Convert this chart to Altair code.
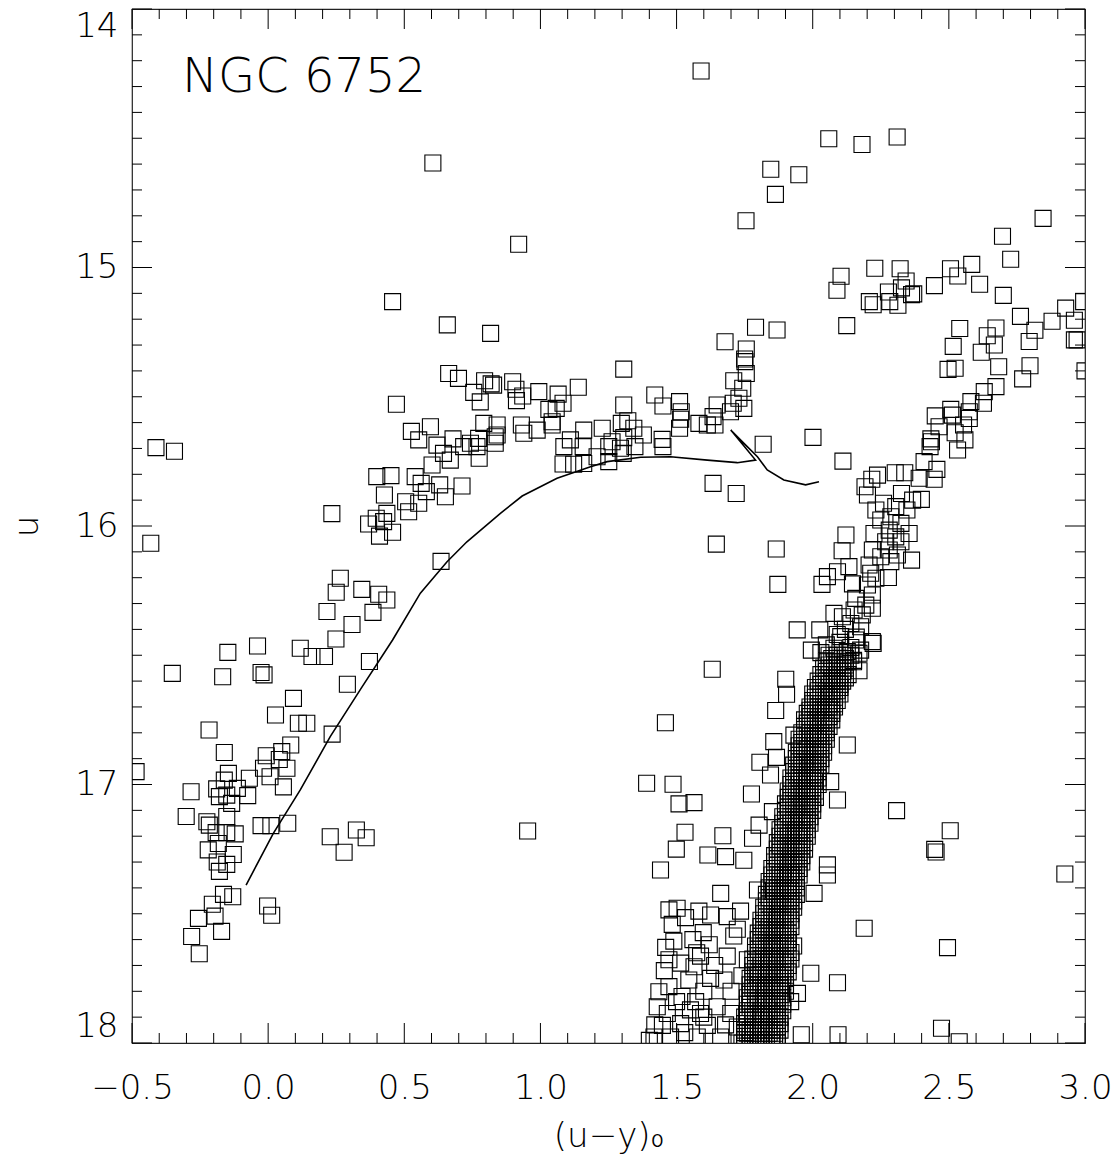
import altair as alt
import pandas as pd

# ---------------- data ----------------
field_upper = [
    (1.59, 14.24), (0.605, 14.596), (1.755, 14.819), (0.92, 14.91), (2.059, 14.502),
    (2.181, 14.524), (2.31, 14.495), (1.846, 14.62), (1.949, 14.641), (1.863, 14.717),
    (2.846, 14.81), (2.697, 14.879), (2.727, 14.968), (0.457, 15.132), (0.658, 15.222),
    (0.817, 15.255), (1.306, 15.393), (1.869, 15.242), (1.79, 15.231), (2.125, 15.225),
    (1.678, 15.287),
]

agb_points = [
    (2.506, 15.005), (2.584, 14.988), (2.533, 15.033), (2.613, 15.065), (2.700, 15.108),
    (2.447, 15.070), (2.228, 15.003), (2.321, 15.005), (2.104, 15.034), (2.089, 15.088),
    (2.208, 15.132), (2.222, 15.144), (2.278, 15.095), (2.283, 15.132), (2.313, 15.146),
    (2.343, 15.052), (2.326, 15.079), (2.363, 15.105), (2.371, 15.102), (2.763, 15.189),
    (2.929, 15.157), (2.879, 15.208), (2.961, 15.204), (2.816, 15.243), (2.795, 15.286),
    (2.961, 15.28), (2.971, 15.28), (2.995, 15.132), (2.540, 15.236), (2.673, 15.234),
    (2.641, 15.264), (2.667, 15.30), (2.516, 15.305), (2.619, 15.328), (2.683, 15.384),
    (2.798, 15.38), (2.497, 15.394), (2.523, 15.39), (3.0, 15.4),
]

rgb_upper = [
    (2.771, 15.431), (2.673, 15.461), (2.630, 15.480), (2.627, 15.525), (2.581, 15.519),
    (2.575, 15.558), (2.575, 15.584), (2.507, 15.549), (2.513, 15.571), (2.450, 15.574),
    (2.464, 15.616), (2.523, 15.639), (2.554, 15.609), (2.559, 15.667), (2.532, 15.706),
    (2.434, 15.663), (2.431, 15.693), (2.436, 15.674), (2.409, 15.751), (2.456, 15.781),
    (2.446, 15.819), (2.391, 15.815), (2.338, 15.794), (2.303, 15.794), (2.238, 15.803),
    (2.217, 15.819), (2.192, 15.848), (2.201, 15.880), (2.326, 15.874), (2.367, 15.9),
    (2.399, 15.897), (2.260, 15.912), (2.232, 15.938), (2.305, 15.925), (2.346, 15.938),
    (2.287, 15.964), (2.250, 15.977), (2.225, 16.029), (2.324, 15.990), (2.354, 16.029),
    (2.281, 16.016), (2.305, 16.042), (2.324, 16.061), (2.268, 16.061), (2.281, 16.093),
    (2.219, 16.093), (2.250, 16.119), (2.311, 16.112), (2.363, 16.132), (2.287, 16.138),
    (2.122, 16.035), (2.108, 16.096), (2.133, 16.157), (2.091, 16.177), (2.054, 16.196),
    (2.034, 16.226), (2.207, 16.151), (2.213, 16.183), (2.232, 16.202), (2.278, 16.199),
    (2.146, 16.224), (2.201, 16.228), (2.219, 16.267), (2.158, 16.28), (2.195, 16.306),
    (2.219, 16.318), (2.152, 16.325), (2.182, 16.344), (2.078, 16.338), (2.109, 16.351),
    (2.140, 16.377), (2.176, 16.39), (2.026, 16.402), (1.943, 16.402), (2.103, 16.428),
    (2.158, 16.441), (2.219, 16.447), (1.995, 16.48), (2.078, 16.473), (2.127, 16.486),
    (2.17, 16.492), (2.222, 16.454), (2.176, 16.48), (2.111, 15.749),
    (2.05, 16.46), (2.10, 16.45), (2.14, 16.47), (2.09, 16.42), (2.12, 16.40),
    (2.16, 16.43), (2.15, 16.52), (2.17, 16.56), (2.03, 16.49),
]

hb_points = [
    (0.471, 15.529), (0.663, 15.41), (0.699, 15.429), (0.755, 15.483), (0.795, 15.438),
    (0.819, 15.45), (0.779, 15.52), (0.526, 15.634), (0.596, 15.616), (0.553, 15.667),
    (0.620, 15.687), (0.679, 15.663), (0.644, 15.719), (0.669, 15.745), (0.718, 15.693),
    (0.743, 15.68), (0.773, 15.661), (0.792, 15.603), (0.767, 15.693), (0.775, 15.738),
    (0.841, 15.609), (0.841, 15.648), (0.602, 15.764), (0.399, 15.809), (0.451, 15.805),
    (0.427, 15.88), (0.540, 15.809), (0.562, 15.835), (0.581, 15.867), (0.630, 15.841),
    (0.651, 15.887), (0.712, 15.845), (0.505, 15.906), (0.516, 15.945), (0.553, 15.912),
    (0.436, 15.951), (0.234, 15.952), (0.397, 15.970), (0.369, 15.992), (0.424, 15.983),
    (0.409, 16.039), (0.457, 16.024), (0.635, 16.137),
    (0.898, 15.442), (0.91, 15.471), (0.935, 15.497), (0.912, 15.515), (0.994, 15.48),
    (1.065, 15.49), (1.083, 15.525), (1.139, 15.463), (1.031, 15.549), (1.058, 15.545),
    (0.828, 15.455), (0.834, 15.655), (0.834, 15.68), (0.930, 15.609), (0.939, 15.641),
    (0.988, 15.629), (1.043, 15.597), (1.043, 15.609), (1.110, 15.667), (1.086, 15.693),
    (1.159, 15.629), (1.157, 15.693), (1.083, 15.760), (1.122, 15.761), (1.159, 15.758),
    (1.227, 15.622), (1.208, 15.732), (1.251, 15.751), (1.251, 15.693), (1.263, 15.674),
    (1.297, 15.603), (1.321, 15.593), (1.343, 15.622), (1.306, 15.658), (1.294, 15.699),
    (1.304, 15.719), (1.347, 15.693), (1.378, 15.648), (1.306, 15.532), (1.420, 15.493),
    (1.45, 15.536), (1.511, 15.519), (1.517, 15.558), (1.447, 15.665), (1.45, 15.693),
    (1.511, 15.622), (1.515, 15.587), (1.582, 15.603), (1.613, 15.609), (1.641, 15.609),
    (1.634, 15.577), (1.649, 15.532), (1.698, 15.558), (1.708, 15.525), (1.747, 15.545),
    (1.729, 15.506), (1.743, 15.467), (1.710, 15.438), (1.756, 15.41), (1.751, 15.364),
    (1.756, 15.315), (1.75, 15.354), (1.818, 15.684), (2.001, 15.657), (1.634, 15.835),
    (1.719, 15.874), (1.646, 16.07), (1.866, 16.089), (1.872, 16.226),
]

bhb_points = [
    (-0.412, 15.697), (-0.344, 15.711), (-0.431, 16.067),
    (0.265, 16.202), (0.250, 16.256), (0.344, 16.245), (0.406, 16.264), (0.436, 16.286),
    (0.216, 16.331), (0.385, 16.334), (0.308, 16.381), (0.249, 16.437), (-0.148, 16.489),
    (-0.039, 16.464), (0.118, 16.473), (0.161, 16.505), (0.207, 16.505), (0.372, 16.524),
    (-0.352, 16.57), (-0.167, 16.583), (-0.026, 16.567), (-0.015, 16.576), (0.291, 16.612),
    (0.093, 16.667), (0.027, 16.731), (0.111, 16.763), (0.142, 16.763), (0.235, 16.805),
    (-0.217, 16.789), (-0.161, 16.876), (0.083, 16.847), (0.05, 16.873), (-0.007, 16.889),
    (0.041, 16.903), (0.069, 16.937), (-0.017, 16.937), (0.007, 16.97), (0.056, 17.009),
    (-0.485, 16.95), (-0.146, 16.957), (-0.161, 16.983), (-0.069, 16.976), (-0.283, 17.028),
    (-0.113, 17.015), (-0.075, 17.043), (-0.189, 17.017), (-0.179, 17.047), (-0.152, 17.041),
    (-0.134, 17.073), (-0.301, 17.124), (-0.152, 17.124), (-0.225, 17.144), (-0.216, 17.157),
    (-0.191, 17.186), (-0.152, 17.186), (-0.121, 17.191), (-0.183, 17.228), (-0.220, 17.253),
    (-0.128, 17.271), (-0.187, 17.3), (-0.152, 17.309), (-0.179, 17.336), (-0.026, 17.159),
    (0.010, 17.159), (0.072, 17.15), (0.228, 17.202), (0.324, 17.176), (0.360, 17.206),
    (0.279, 17.262), (-0.164, 17.425), (-0.130, 17.434), (-0.205, 17.463), (-0.256, 17.518),
    (-0.195, 17.509), (-0.002, 17.47), (0.013, 17.506), (-0.171, 17.568), (-0.281, 17.588),
    (-0.253, 17.655),
]

field_lower = [
    (1.631, 16.554), (1.459, 16.761), (1.390, 16.995), (1.487, 16.999), (1.509, 17.075),
    (1.564, 17.07), (1.531, 17.185), (1.499, 17.25), (1.670, 17.198), (1.615, 17.273),
    (1.68, 17.279), (1.775, 17.037), (1.864, 16.714), (1.901, 16.593), (1.904, 16.651),
    (1.931, 16.809), (1.857, 16.834), (1.867, 16.895), (1.806, 16.914), (1.845, 16.963),
    (2.127, 16.847), (2.091, 17.06), (2.066, 16.989), (1.852, 17.105), (1.803, 17.157),
    (1.779, 17.208), (0.953, 17.18), (2.308, 17.101), (2.505, 17.179), (2.448, 17.251),
    (2.453, 17.261), (2.926, 17.346), (2.189, 17.556), (2.495, 17.631), (2.473, 17.943),
    (2.538, 17.995),
]

sgb_points = [
    (1.441, 17.331), (1.747, 17.293), (2.054, 17.311), (2.054, 17.35), (1.662, 17.421),
    (1.797, 17.408), (2.005, 17.421), (1.472, 17.485), (1.502, 17.479), (1.582, 17.49),
    (1.625, 17.505), (1.686, 17.511), (1.735, 17.49), (1.484, 17.541), (1.533, 17.515),
    (1.598, 17.573), (1.723, 17.560), (1.710, 17.586), (1.49, 17.606), (1.574, 17.651),
    (1.588, 17.664), (1.686, 17.664), (1.472, 17.678), (1.515, 17.691), (1.564, 17.705),
    (1.760, 17.678), (1.993, 17.73), (2.091, 17.767), (1.435, 17.802), (1.472, 17.782),
    (1.545, 17.756), (1.674, 17.756), (1.625, 17.75), (1.944, 17.808), (1.919, 17.84),
    (1.429, 17.86), (1.466, 17.886), (1.551, 17.872), (1.588, 17.886), (1.649, 17.86),
    (1.699, 17.886), (1.448, 17.932), (1.515, 17.925), (1.613, 17.932), (1.723, 17.938),
    (1.417, 17.977), (1.478, 17.977), (1.576, 17.977), (1.662, 17.977), (1.958, 17.968),
    (2.093, 17.968), (1.455, 17.72), (1.52, 17.82), (1.60, 17.80), (1.70, 17.80),
    (1.64, 17.70), (1.56, 17.60), (1.62, 17.62), (1.74, 17.74), (1.77, 17.85),
    (1.42, 17.93), (1.53, 17.96), (1.60, 17.90), (1.68, 17.93), (1.75, 17.96),
    (1.46, 17.63), (1.40, 17.99), (1.50, 17.84), (1.57, 17.84),
]

# dense lower red-giant branch: rows of (u, [u-y values])
rgb_rows = [
    (16.500, [2.06, 2.09, 2.11, 2.14]),
    (16.525, [2.05, 2.08, 2.10, 2.13, 2.15]),
    (16.550, [2.04, 2.07, 2.09, 2.12]),
    (16.575, [2.03, 2.06, 2.08, 2.10, 2.13]),
    (16.600, [2.02, 2.05, 2.07, 2.09, 2.11]),
    (16.625, [2.01, 2.04, 2.06, 2.08, 2.10]),
    (16.650, [2.00, 2.03, 2.05, 2.07, 2.10]),
    (16.675, [2.00, 2.02, 2.05, 2.07, 2.09]),
    (16.700, [1.99, 2.02, 2.04, 2.06, 2.08]),
    (16.725, [1.98, 2.01, 2.03, 2.05, 2.07]),
    (16.750, [1.97, 2.00, 2.02, 2.04, 2.07]),
    (16.775, [1.97, 1.99, 2.01, 2.04, 2.06]),
    (16.800, [1.96, 1.99, 2.01, 2.03, 2.05]),
    (16.825, [1.95, 1.98, 2.00, 2.02, 2.05]),
    (16.850, [1.95, 1.97, 2.00, 2.02, 2.04]),
    (16.875, [1.94, 1.97, 1.99, 2.01, 2.04]),
    (16.900, [1.94, 1.96, 1.99, 2.01, 2.03]),
    (16.925, [1.93, 1.96, 1.98, 2.00, 2.03]),
    (16.950, [1.93, 1.95, 1.98, 2.00, 2.02]),
    (16.975, [1.92, 1.95, 1.97, 2.00, 2.02]),
    (17.000, [1.92, 1.95, 1.97, 1.99, 2.02]),
    (17.025, [1.91, 1.94, 1.97, 1.99, 2.01]),
    (17.050, [1.91, 1.94, 1.96, 1.98, 2.01]),
    (17.075, [1.90, 1.93, 1.96, 1.98, 2.00]),
    (17.100, [1.90, 1.93, 1.95, 1.97, 2.00]),
    (17.125, [1.89, 1.92, 1.95, 1.97, 1.99]),
    (17.150, [1.89, 1.92, 1.94, 1.96, 1.99]),
    (17.175, [1.88, 1.91, 1.94, 1.96, 1.98]),
    (17.200, [1.88, 1.91, 1.93, 1.95, 1.98]),
    (17.225, [1.87, 1.90, 1.93, 1.95, 1.97]),
    (17.250, [1.87, 1.90, 1.92, 1.94, 1.97]),
    (17.275, [1.86, 1.89, 1.92, 1.94, 1.96]),
    (17.300, [1.86, 1.89, 1.91, 1.93, 1.96]),
    (17.325, [1.85, 1.88, 1.91, 1.93, 1.95]),
    (17.350, [1.85, 1.88, 1.90, 1.92, 1.95]),
    (17.375, [1.84, 1.87, 1.90, 1.92, 1.94]),
    (17.400, [1.84, 1.87, 1.89, 1.91, 1.94]),
    (17.425, [1.83, 1.86, 1.89, 1.91, 1.94]),
    (17.450, [1.83, 1.86, 1.88, 1.91, 1.93]),
    (17.475, [1.82, 1.85, 1.88, 1.90, 1.93]),
    (17.500, [1.82, 1.85, 1.87, 1.90, 1.92]),
    (17.525, [1.81, 1.84, 1.87, 1.89, 1.92]),
    (17.550, [1.81, 1.84, 1.86, 1.89, 1.92]),
    (17.575, [1.80, 1.83, 1.86, 1.88, 1.91]),
    (17.600, [1.80, 1.83, 1.85, 1.88, 1.91]),
    (17.625, [1.79, 1.82, 1.85, 1.87, 1.90, 1.93]),
    (17.650, [1.79, 1.82, 1.84, 1.87, 1.90, 1.92]),
    (17.675, [1.78, 1.81, 1.84, 1.86, 1.89, 1.92]),
    (17.700, [1.78, 1.81, 1.83, 1.86, 1.89, 1.91]),
    (17.725, [1.78, 1.80, 1.83, 1.86, 1.88, 1.91]),
    (17.750, [1.77, 1.80, 1.83, 1.85, 1.88, 1.90]),
    (17.775, [1.77, 1.80, 1.82, 1.85, 1.88, 1.90]),
    (17.800, [1.77, 1.79, 1.82, 1.85, 1.87, 1.90]),
    (17.825, [1.76, 1.79, 1.82, 1.84, 1.87, 1.89]),
    (17.850, [1.76, 1.79, 1.81, 1.84, 1.87, 1.89]),
    (17.875, [1.76, 1.78, 1.81, 1.84, 1.86, 1.89]),
    (17.900, [1.75, 1.78, 1.81, 1.83, 1.86, 1.88]),
    (17.925, [1.75, 1.78, 1.80, 1.83, 1.86, 1.88]),
    (17.950, [1.75, 1.77, 1.80, 1.83, 1.85, 1.88]),
    (17.975, [1.75, 1.77, 1.80, 1.82, 1.85, 1.87]),
    (18.000, [1.74, 1.77, 1.79, 1.82, 1.85, 1.87]),
]

# second, interleaved set of stars in the same dense branch
rgb_rows_b = [
    (16.5125, [2.07, 2.10, 2.12]),
    (16.5375, [2.06, 2.09, 2.12]),
    (16.5625, [2.05, 2.08, 2.11]),
    (16.5875, [2.04, 2.07, 2.09, 2.12]),
    (16.6125, [2.03, 2.06, 2.08, 2.10]),
    (16.6375, [2.02, 2.05, 2.07, 2.09]),
    (16.6625, [2.01, 2.04, 2.06, 2.08]),
    (16.6875, [2.00, 2.03, 2.06, 2.08]),
    (16.7125, [1.99, 2.03, 2.05, 2.07]),
    (16.7375, [1.99, 2.02, 2.04, 2.06]),
    (16.7625, [1.98, 2.01, 2.03, 2.05]),
    (16.7875, [1.97, 2.00, 2.02, 2.05]),
    (16.8125, [1.97, 2.00, 2.02, 2.04]),
    (16.8375, [1.96, 1.99, 2.01, 2.03]),
    (16.8625, [1.96, 1.98, 2.01, 2.03]),
    (16.8875, [1.95, 1.98, 2.00, 2.02]),
    (16.9125, [1.95, 1.97, 2.00, 2.02]),
    (16.9375, [1.94, 1.97, 1.99, 2.01]),
    (16.9625, [1.94, 1.96, 1.99, 2.01]),
    (16.9875, [1.93, 1.96, 1.98, 2.01]),
    (17.0125, [1.93, 1.96, 1.98, 2.00]),
    (17.0375, [1.92, 1.95, 1.98, 2.00]),
    (17.0625, [1.92, 1.95, 1.97, 1.99]),
    (17.0875, [1.91, 1.94, 1.97, 1.99]),
    (17.1125, [1.91, 1.94, 1.96, 1.98]),
    (17.1375, [1.90, 1.93, 1.96, 1.98]),
    (17.1625, [1.90, 1.93, 1.95, 1.97]),
    (17.1875, [1.89, 1.92, 1.95, 1.97]),
    (17.2125, [1.89, 1.92, 1.94, 1.96]),
    (17.2375, [1.88, 1.91, 1.94, 1.96]),
    (17.2625, [1.88, 1.91, 1.93, 1.95]),
    (17.2875, [1.87, 1.90, 1.93, 1.95]),
    (17.3125, [1.87, 1.90, 1.92, 1.94]),
    (17.3375, [1.86, 1.89, 1.92, 1.94]),
    (17.3625, [1.86, 1.89, 1.91, 1.93]),
    (17.3875, [1.85, 1.88, 1.91, 1.93]),
    (17.4125, [1.85, 1.88, 1.90, 1.92]),
    (17.4375, [1.84, 1.87, 1.90, 1.92]),
    (17.4625, [1.84, 1.87, 1.89, 1.92]),
    (17.4875, [1.83, 1.86, 1.89, 1.91]),
    (17.5125, [1.83, 1.86, 1.88, 1.91]),
    (17.5375, [1.82, 1.85, 1.88, 1.90]),
    (17.5625, [1.82, 1.85, 1.87, 1.90]),
    (17.5875, [1.81, 1.84, 1.87, 1.89]),
    (17.6125, [1.81, 1.84, 1.86, 1.89, 1.91]),
    (17.6375, [1.80, 1.83, 1.86, 1.88, 1.91]),
    (17.6625, [1.80, 1.83, 1.85, 1.88, 1.90]),
    (17.6875, [1.79, 1.82, 1.85, 1.87, 1.90]),
    (17.7125, [1.79, 1.82, 1.84, 1.87, 1.90]),
    (17.7375, [1.79, 1.81, 1.84, 1.87, 1.89]),
    (17.7625, [1.78, 1.81, 1.84, 1.86, 1.89]),
    (17.7875, [1.78, 1.81, 1.83, 1.86, 1.88]),
    (17.8125, [1.77, 1.80, 1.83, 1.86, 1.88]),
    (17.8375, [1.77, 1.80, 1.83, 1.85, 1.88]),
    (17.8625, [1.77, 1.80, 1.82, 1.85, 1.87]),
    (17.8875, [1.76, 1.79, 1.82, 1.85, 1.87]),
    (17.9125, [1.76, 1.79, 1.82, 1.84, 1.87]),
    (17.9375, [1.76, 1.79, 1.81, 1.84, 1.87]),
    (17.9625, [1.76, 1.78, 1.81, 1.84, 1.86]),
    (17.9875, [1.75, 1.78, 1.81, 1.83, 1.86]),
]

# theoretical track (solid line)
track_x = [-0.081, 0.019, 0.118, 0.228, 0.342, 0.457, 0.559, 0.657, 0.730, 0.853,
           0.933, 1.061, 1.184, 1.245, 1.368, 1.478, 1.613, 1.723, 1.790, 1.699,
           1.754, 1.797, 1.833, 1.894, 1.974, 2.023]
track_y = [17.389, 17.189, 17.021, 16.815, 16.627, 16.441, 16.26, 16.138, 16.061, 15.951,
           15.884, 15.815, 15.771, 15.751, 15.734, 15.732, 15.745, 15.755, 15.745, 15.629,
           15.687, 15.732, 15.783, 15.822, 15.841, 15.829]

title_text = "NGC 6752"
title_pos = (-0.316, 14.321)

x_major = [-0.5, 0.0, 0.5, 1.0, 1.5, 2.0, 2.5, 3.0]
y_major = [14, 15, 16, 17, 18]
x_minor = [round(-0.5 + 0.1 * i, 1) for i in range(36) if i % 5 != 0]
y_minor = [round(14 + 0.1 * i, 1) for i in range(41) if i % 10 != 0]

# ---------------- build ----------------
W, H = 953, 1034
FONT = "DejaVu Sans"

pts = []
for grp in (field_upper, agb_points, rgb_upper, hb_points, bhb_points, field_lower, sgb_points):
    pts.extend(grp)
for rows in (rgb_rows, rgb_rows_b):
    for yv, xs in rows:
        pts.extend((xv, yv) for xv in xs)
df_pts = pd.DataFrame(pts, columns=["uy", "u"])
df_track = pd.DataFrame({"uy": track_x, "u": track_y, "i": list(range(len(track_x)))})
df_label = pd.DataFrame({"uy": [title_pos[0]], "u": [title_pos[1]], "t": [title_text]})

xscale = alt.Scale(domain=[-0.5, 3.0], nice=False, zero=False)
yscale = alt.Scale(domain=[14, 18], nice=False, zero=False, reverse=True)

xaxis = alt.Axis(values=x_major, format=".1f", ticks=False, domain=False, grid=False,
                 labelFontSize=34, labelFont=FONT, labelFontWeight=200, labelColor="black",
                 labelPadding=28, labelFlush=False, labelOverlap=False,
                 title="(u\u2212y)\u2080", titleFontSize=34, titleFont=FONT,
                 titleFontWeight=200, titleColor="black", titlePadding=14)
yaxis = alt.Axis(values=y_major, format="d", ticks=False, domain=False, grid=False,
                 labelFontSize=34, labelFont=FONT, labelFontWeight=200, labelColor="black",
                 labelPadding=14, labelFlush=True, title="u", titleFontSize=34, titleFont=FONT,
                 titleFontWeight=200, titleColor="black", titlePadding=30)

points = alt.Chart(df_pts).mark_point(
    shape="square", filled=False, size=256, color="black", strokeWidth=1.1, clip=True, opacity=1
).encode(
    x=alt.X("uy:Q", scale=xscale, axis=xaxis),
    y=alt.Y("u:Q", scale=yscale, axis=yaxis),
)

track = alt.Chart(df_track).mark_line(color="black", strokeWidth=1.6, clip=True).encode(
    x=alt.X("uy:Q", scale=xscale),
    y=alt.Y("u:Q", scale=yscale),
    order="i:Q",
)

label = alt.Chart(df_label).mark_text(
    align="left", baseline="alphabetic", fontSize=48, font=FONT, fontWeight=200, color="black"
).encode(x=alt.X("uy:Q", scale=xscale), y=alt.Y("u:Q", scale=yscale), text="t:N")


def xticks(vals, length):
    d = pd.DataFrame({"v": vals})
    top = alt.Chart(d).mark_rule(color="black", strokeWidth=1).encode(
        x=alt.X("v:Q", scale=xscale), y=alt.value(0), y2=alt.value(length))
    bot = alt.Chart(d).mark_rule(color="black", strokeWidth=1).encode(
        x=alt.X("v:Q", scale=xscale), y=alt.value(H), y2=alt.value(H - length))
    return [top, bot]


def yticks(vals, length):
    d = pd.DataFrame({"v": vals})
    left = alt.Chart(d).mark_rule(color="black", strokeWidth=1).encode(
        y=alt.Y("v:Q", scale=yscale), x=alt.value(0), x2=alt.value(length))
    right = alt.Chart(d).mark_rule(color="black", strokeWidth=1).encode(
        y=alt.Y("v:Q", scale=yscale), x=alt.value(W), x2=alt.value(W - length))
    return [left, right]


tick_layers = xticks(x_major, 20) + xticks(x_minor, 10) + yticks(y_major, 20) + yticks(y_minor, 10)

chart = alt.layer(points, track, label, *tick_layers).properties(
    width=W, height=H,
    padding={"left": 132, "top": 9, "right": 30, "bottom": 117},
    autosize="none",
    background="white",
).configure_view(stroke="#222", strokeWidth=1.2)

chart.save("out.html", embed_options={"renderer": "svg", "actions": False})
